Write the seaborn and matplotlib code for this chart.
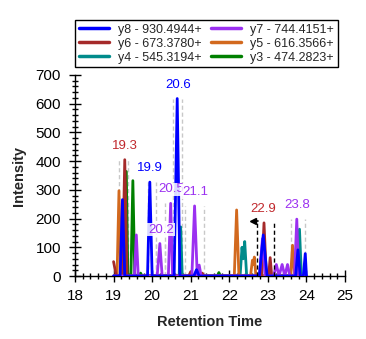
import matplotlib
matplotlib.use("Agg")
import matplotlib.pyplot as plt
from matplotlib.lines import Line2D
from matplotlib.ticker import MultipleLocator
import seaborn as sns
import pandas as pd

# ---------------- data ----------------
y8_time = [19.00, 19.17, 19.23, 19.29, 19.88, 19.94, 20.00, 20.57, 20.65, 20.72,
           21.08, 21.15, 21.22, 22.78, 22.88, 22.98, 23.72, 23.78, 23.84, 23.92, 23.97, 24.00]
y8_int = [0, 0, 266, 0, 0, 327, 0, 0, 618, 0,
          0, 22, 0, 0, 143, 0, 0, 91, 0, 0, 78, 0]

y7_time = [19.00, 19.54, 19.59, 19.64, 20.13, 20.20, 20.26, 20.42, 20.48, 20.53,
           21.03, 21.10, 21.17, 21.22, 21.27, 22.78, 22.86, 22.93,
           23.15, 23.22, 23.29, 23.37, 23.44, 23.51, 23.57, 23.69, 23.75, 23.80, 24.00]
y7_int = [0, 0, 143, 0, 0, 113, 0, 0, 253, 0,
          0, 244, 0, 38, 0, 0, 130, 0,
          0, 40, 0, 40, 0, 40, 0, 0, 198, 0, 0]

y6_time = [19.00, 19.07, 19.23, 19.29, 19.35, 20.95, 21.00, 21.05, 21.25, 21.30, 21.35,
           22.84, 22.90, 22.96, 23.02, 23.06, 23.10, 24.00]
y6_int = [50, 0, 0, 405, 0, 0, 15, 0, 0, 10, 0,
          0, 185, 0, 0, 64, 0, 0]

y5_time = [19.00, 19.09, 19.14, 19.19, 22.13, 22.19, 22.25, 22.55, 22.60, 22.62, 22.65, 22.69,
           23.59, 23.64, 23.69, 24.00]
y5_int = [0, 0, 297, 0, 0, 230, 0, 0, 55, 40, 66, 0,
          0, 107, 0, 0]

y4_time = [19.00, 20.70, 20.74, 20.78, 22.28, 22.33, 22.36, 22.40, 22.45, 23.77, 23.82, 23.87, 24.00]
y4_int = [0, 0, 171, 0, 0, 100, 60, 120, 0, 0, 163, 0, 0]

y3_time = [19.00, 19.29, 19.33, 19.37, 19.45, 19.50, 19.55, 19.66, 19.70, 19.74,
           21.69, 21.73, 21.77, 24.00]
y3_int = [0, 0, 364, 0, 0, 332, 0, 0, 10, 0,
          0, 12, 0, 0]

ions = ["y8 - 930.4944+", "y7 - 744.4151+", "y6 - 673.3780+",
        "y5 - 616.3566+", "y4 - 545.3194+", "y3 - 474.2823+"]
colors = ["#0000FF", "#9B30F0", "#A52A2A", "#D2691E", "#008B8B", "#008000"]

# peak labels
label_times = [19.30, 19.94, 20.23, 20.50, 20.67, 21.11, 22.89, 23.77]
label_peaks = [405, 327, 113, 253, 618, 244, 185, 198]
label_texts = ["19.3", "19.9", "20.2", "20.5", "20.6", "21.1", "22.9", "23.8"]
label_colors = ["#C0282D", "#0000FF", "#9B30F0", "#9B30F0", "#0000FF", "#9B30F0",
                "#C0282D", "#9B30F0"]

# integration boundaries (grey dashed)
bound_times = [19.15, 19.38, 19.88, 20.10, 20.10, 20.34, 20.34, 20.56, 20.54, 20.77,
               20.85, 21.34, 23.61, 23.97]
bound_heights = [405, 405, 327, 327, 113, 113, 253, 253, 618, 618,
                 244, 244, 198, 198]
# selected peak boundaries (black dashed)
sel_times = [22.71, 23.15]
sel_heights = [190, 185]

# ---------------- build long-form table ----------------
series = {
    ions[0]: (y8_time, y8_int), ions[1]: (y7_time, y7_int), ions[2]: (y6_time, y6_int),
    ions[3]: (y5_time, y5_int), ions[4]: (y4_time, y4_int), ions[5]: (y3_time, y3_int),
}
rows = []
for ion, (ts, vs) in series.items():
    for t, v in zip(ts, vs):
        rows.append({"ion": ion, "time": t, "intensity": v})
df = pd.DataFrame(rows)
palette = dict(zip(ions, colors))

sns.set_style("ticks")
plt.rcParams["font.family"] = ["Liberation Sans", "DejaVu Sans"]

fig = plt.figure(figsize=(3.66, 3.39), dpi=100)
ax = fig.add_axes([75 / 366, 1 - 276 / 339, 270 / 366, 201 / 339])

draw_order = ions[::-1]  # y3 first, y8 on top
for b_t, b_h in zip(bound_times, bound_heights):
    ax.plot([b_t, b_t], [0, b_h], color="#C8C8C8", lw=1, ls=(0, (3, 2)), zorder=1)

sns.lineplot(data=df, x="time", y="intensity", hue="ion", hue_order=draw_order,
             palette=palette, sort=False, estimator=None, linewidth=2.0,
             legend=False, ax=ax, zorder=3)

for s_t, s_h in zip(sel_times, sel_heights):
    ax.plot([s_t, s_t], [0, s_h], color="black", lw=1, ls=(0, (3, 2)), zorder=4)
ax.plot([sel_times[0] - 0.08, sel_times[0] + 0.03], [sel_heights[0] + 3] * 2,
        color="black", lw=1.2, zorder=5)
ax.plot([sel_times[0] - 0.1], [sel_heights[0] + 3], marker="<", color="black",
        markersize=5, zorder=5)

for t, p, s, c in zip(label_times, label_peaks, label_texts, label_colors):
    txt = ax.text(t, p, s, ha="center", va="center", fontsize=9.5, color=c,
                  bbox=dict(facecolor="white", alpha=0.85, edgecolor="none", pad=0.5),
                  zorder=10)
    txt.set_transform(ax.transData + matplotlib.transforms.ScaledTranslation(
        0, 10 / 72, fig.dpi_scale_trans))

ax.set_xlim(18, 25)
ax.set_ylim(0, 700)
ax.xaxis.set_major_locator(MultipleLocator(1))
ax.xaxis.set_minor_locator(MultipleLocator(0.2))
ax.yaxis.set_major_locator(MultipleLocator(100))
ax.yaxis.set_minor_locator(MultipleLocator(20))
ax.tick_params(which="major", direction="inout", length=8, width=1, labelsize=11,
               color="black", labelcolor="black", pad=5)
ax.tick_params(axis="y", which="major", pad=6)
ax.tick_params(which="minor", direction="inout", length=5, width=1, color="black")
for sp in ["top", "right"]:
    ax.spines[sp].set_visible(False)
for sp in ["left", "bottom"]:
    ax.spines[sp].set_color("black")
    ax.spines[sp].set_linewidth(1)

ax.set_xlabel("Retention Time", fontsize=10.5, fontweight="bold", labelpad=9)
ax.set_ylabel("Intensity", fontsize=10.5, fontweight="bold", labelpad=7)

legend_order = [ions[0], ions[2], ions[4], ions[1], ions[3], ions[5]]
handles = [Line2D([0], [0], color=palette[i], lw=2.5) for i in legend_order]
leg = fig.legend(handles, legend_order, loc="upper left", ncol=2,
                 bbox_to_anchor=(75 / 366, 1 - 20 / 339), fontsize=9.0,
                 frameon=True, fancybox=False, edgecolor="black", framealpha=1,
                 handlelength=2.4, handletextpad=0.7, columnspacing=0.8,
                 labelspacing=0.15, borderpad=0.3, borderaxespad=0)
leg.get_frame().set_linewidth(1)

fig.savefig("out.png", dpi=100)
